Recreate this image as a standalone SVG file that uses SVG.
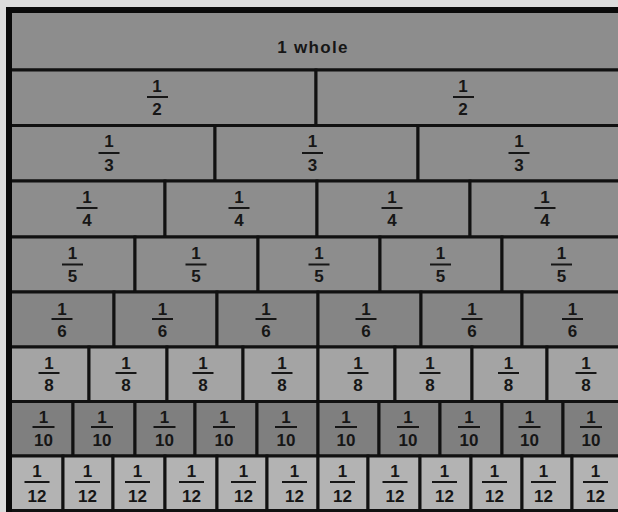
<svg xmlns="http://www.w3.org/2000/svg" width="618" height="512" viewBox="0 0 618 512">
<style>
.c{stroke:#111;stroke-width:3}
.r1{fill:#8d8d8d}.r6{fill:#858585}.r8{fill:#a4a4a4}.r10{fill:#7f7f7f}.r12{fill:#b3b3b3}
text{font-family:"Liberation Sans",Arial,sans-serif;font-weight:bold;font-size:17px;fill:#161616;text-anchor:middle}
.bar{fill:#161616}
</style>
<rect width="618" height="512" fill="#dcdcdc"/>
<g id="row-whole">
<g id="whole"><rect class="c r1" x="9" y="10" width="660" height="60"/><text x="313" y="53" font-size="17" letter-spacing="1.3">1 whole</text></g>
</g>
<g id="row-halves">
<g id="half-1"><rect class="c r1" x="9" y="70" width="307" height="55.5"/><text x="157" y="91.5">1</text><rect class="bar" x="147" y="96" width="21" height="2"/><text x="157" y="115">2</text></g>
<g id="half-2"><rect class="c r1" x="316" y="70" width="360" height="55.5"/><text x="463" y="91.5">1</text><rect class="bar" x="453" y="96" width="21" height="2"/><text x="463" y="115">2</text></g>
</g>
<g id="row-thirds">
<g id="third-1"><rect class="c r1" x="9" y="125.5" width="206" height="55.5"/><text x="109" y="147">1</text><rect class="bar" x="98.5" y="152" width="21" height="2"/><text x="109" y="170.5">3</text></g>
<g id="third-2"><rect class="c r1" x="215" y="125.5" width="203" height="55.5"/><text x="312.5" y="147">1</text><rect class="bar" x="302" y="152" width="21" height="2"/><text x="312.5" y="170.5">3</text></g>
<g id="third-3"><rect class="c r1" x="418" y="125.5" width="260" height="55.5"/><text x="519" y="147">1</text><rect class="bar" x="508.5" y="152" width="21" height="2"/><text x="519" y="170.5">3</text></g>
</g>
<g id="row-quarters">
<g id="quarter-1"><rect class="c r1" x="9" y="181" width="156" height="56"/><text x="87" y="202.5">1</text><rect class="bar" x="76.5" y="207" width="21" height="2"/><text x="87" y="226">4</text></g>
<g id="quarter-2"><rect class="c r1" x="165" y="181" width="152" height="56"/><text x="239" y="202.5">1</text><rect class="bar" x="228.5" y="207" width="21" height="2"/><text x="239" y="226">4</text></g>
<g id="quarter-3"><rect class="c r1" x="317" y="181" width="153" height="56"/><text x="392" y="202.5">1</text><rect class="bar" x="381.5" y="207" width="21" height="2"/><text x="392" y="226">4</text></g>
<g id="quarter-4"><rect class="c r1" x="470" y="181" width="200" height="56"/><text x="545" y="202.5">1</text><rect class="bar" x="534.5" y="207" width="21" height="2"/><text x="545" y="226">4</text></g>
</g>
<g id="row-fifths">
<g id="fifth-1"><rect class="c r1" x="9" y="237" width="126" height="55"/><text x="72.5" y="259">1</text><rect class="bar" x="62" y="263.5" width="21" height="2"/><text x="72.5" y="282">5</text></g>
<g id="fifth-2"><rect class="c r1" x="135" y="237" width="123" height="55"/><text x="196" y="259">1</text><rect class="bar" x="185.5" y="263.5" width="21" height="2"/><text x="196" y="282">5</text></g>
<g id="fifth-3"><rect class="c r1" x="258" y="237" width="122" height="55"/><text x="319" y="259">1</text><rect class="bar" x="308.5" y="263.5" width="21" height="2"/><text x="319" y="282">5</text></g>
<g id="fifth-4"><rect class="c r1" x="380" y="237" width="122" height="55"/><text x="440.5" y="259">1</text><rect class="bar" x="430" y="263.5" width="21" height="2"/><text x="440.5" y="282">5</text></g>
<g id="fifth-5"><rect class="c r1" x="502" y="237" width="170" height="55"/><text x="561.5" y="259">1</text><rect class="bar" x="551" y="263.5" width="21" height="2"/><text x="561.5" y="282">5</text></g>
</g>
<g id="row-sixths">
<g id="sixth-1"><rect class="c r6" x="9" y="292" width="105" height="55"/><text x="62" y="315">1</text><rect class="bar" x="51.5" y="318" width="21" height="2"/><text x="62" y="337">6</text></g>
<g id="sixth-2"><rect class="c r6" x="114" y="292" width="103" height="55"/><text x="162.5" y="315">1</text><rect class="bar" x="152" y="318" width="21" height="2"/><text x="162.5" y="337">6</text></g>
<g id="sixth-3"><rect class="c r6" x="217" y="292" width="101" height="55"/><text x="266" y="315">1</text><rect class="bar" x="255.5" y="318" width="21" height="2"/><text x="266" y="337">6</text></g>
<g id="sixth-4"><rect class="c r6" x="318" y="292" width="103" height="55"/><text x="366" y="315">1</text><rect class="bar" x="355.5" y="318" width="21" height="2"/><text x="366" y="337">6</text></g>
<g id="sixth-5"><rect class="c r6" x="421" y="292" width="101" height="55"/><text x="472" y="315">1</text><rect class="bar" x="461.5" y="318" width="21" height="2"/><text x="472" y="337">6</text></g>
<g id="sixth-6"><rect class="c r6" x="522" y="292" width="150" height="55"/><text x="572.5" y="315">1</text><rect class="bar" x="562" y="318" width="21" height="2"/><text x="572.5" y="337">6</text></g>
</g>
<g id="row-eighths">
<g id="eighth-1"><rect class="c r8" x="9" y="347" width="80" height="54.5"/><text x="49" y="369">1</text><rect class="bar" x="38.5" y="372" width="21" height="2"/><text x="49" y="391">8</text></g>
<g id="eighth-2"><rect class="c r8" x="89" y="347" width="78" height="54.5"/><text x="126" y="369">1</text><rect class="bar" x="115.5" y="372" width="21" height="2"/><text x="126" y="391">8</text></g>
<g id="eighth-3"><rect class="c r8" x="167" y="347" width="76" height="54.5"/><text x="203" y="369">1</text><rect class="bar" x="192.5" y="372" width="21" height="2"/><text x="203" y="391">8</text></g>
<g id="eighth-4"><rect class="c r8" x="243" y="347" width="75" height="54.5"/><text x="282" y="369">1</text><rect class="bar" x="271.5" y="372" width="21" height="2"/><text x="282" y="391">8</text></g>
<g id="eighth-5"><rect class="c r8" x="318" y="347" width="77" height="54.5"/><text x="358" y="369">1</text><rect class="bar" x="347.5" y="372" width="21" height="2"/><text x="358" y="391">8</text></g>
<g id="eighth-6"><rect class="c r8" x="395" y="347" width="77" height="54.5"/><text x="430" y="369">1</text><rect class="bar" x="419.5" y="372" width="21" height="2"/><text x="430" y="391">8</text></g>
<g id="eighth-7"><rect class="c r8" x="472" y="347" width="75" height="54.5"/><text x="508.5" y="369">1</text><rect class="bar" x="498" y="372" width="21" height="2"/><text x="508.5" y="391">8</text></g>
<g id="eighth-8"><rect class="c r8" x="547" y="347" width="125" height="54.5"/><text x="586" y="369">1</text><rect class="bar" x="575.5" y="372" width="21" height="2"/><text x="586" y="391">8</text></g>
</g>
<g id="row-tenths">
<g id="tenth-1"><rect class="c r10" x="9" y="401.5" width="64" height="54.5"/><text x="43.5" y="422.5">1</text><rect class="bar" x="32.5" y="426" width="22" height="2"/><text x="43.5" y="446">10</text></g>
<g id="tenth-2"><rect class="c r10" x="73" y="401.5" width="62" height="54.5"/><text x="102" y="422.5">1</text><rect class="bar" x="91" y="426" width="22" height="2"/><text x="102" y="446">10</text></g>
<g id="tenth-3"><rect class="c r10" x="135" y="401.5" width="60" height="54.5"/><text x="164.5" y="422.5">1</text><rect class="bar" x="153.5" y="426" width="22" height="2"/><text x="164.5" y="446">10</text></g>
<g id="tenth-4"><rect class="c r10" x="195" y="401.5" width="62" height="54.5"/><text x="224" y="422.5">1</text><rect class="bar" x="213" y="426" width="22" height="2"/><text x="224" y="446">10</text></g>
<g id="tenth-5"><rect class="c r10" x="257" y="401.5" width="61" height="54.5"/><text x="286" y="422.5">1</text><rect class="bar" x="275" y="426" width="22" height="2"/><text x="286" y="446">10</text></g>
<g id="tenth-6"><rect class="c r10" x="318" y="401.5" width="61" height="54.5"/><text x="346" y="422.5">1</text><rect class="bar" x="335" y="426" width="22" height="2"/><text x="346" y="446">10</text></g>
<g id="tenth-7"><rect class="c r10" x="379" y="401.5" width="61" height="54.5"/><text x="408" y="422.5">1</text><rect class="bar" x="397" y="426" width="22" height="2"/><text x="408" y="446">10</text></g>
<g id="tenth-8"><rect class="c r10" x="440" y="401.5" width="62" height="54.5"/><text x="469" y="422.5">1</text><rect class="bar" x="458" y="426" width="22" height="2"/><text x="469" y="446">10</text></g>
<g id="tenth-9"><rect class="c r10" x="502" y="401.5" width="61" height="54.5"/><text x="529.5" y="422.5">1</text><rect class="bar" x="518.5" y="426" width="22" height="2"/><text x="529.5" y="446">10</text></g>
<g id="tenth-10"><rect class="c r10" x="563" y="401.5" width="110" height="54.5"/><text x="591" y="422.5">1</text><rect class="bar" x="580" y="426" width="22" height="2"/><text x="591" y="446">10</text></g>
</g>
<g id="row-twelfths">
<g id="twelfth-1"><rect class="c r12" x="9" y="456" width="54" height="54.5"/><text x="37" y="476.5">1</text><rect class="bar" x="24.5" y="481" width="25" height="2"/><text x="37" y="502">12</text></g>
<g id="twelfth-2"><rect class="c r12" x="63" y="456" width="50" height="54.5"/><text x="87.5" y="476.5">1</text><rect class="bar" x="75" y="481" width="25" height="2"/><text x="87.5" y="502">12</text></g>
<g id="twelfth-3"><rect class="c r12" x="113" y="456" width="52" height="54.5"/><text x="137.5" y="476.5">1</text><rect class="bar" x="125" y="481" width="25" height="2"/><text x="137.5" y="502">12</text></g>
<g id="twelfth-4"><rect class="c r12" x="165" y="456" width="52" height="54.5"/><text x="191.5" y="476.5">1</text><rect class="bar" x="179" y="481" width="25" height="2"/><text x="191.5" y="502">12</text></g>
<g id="twelfth-5"><rect class="c r12" x="217" y="456" width="50" height="54.5"/><text x="243.5" y="476.5">1</text><rect class="bar" x="231" y="481" width="25" height="2"/><text x="243.5" y="502">12</text></g>
<g id="twelfth-6"><rect class="c r12" x="267" y="456" width="51" height="54.5"/><text x="294.5" y="476.5">1</text><rect class="bar" x="282" y="481" width="25" height="2"/><text x="294.5" y="502">12</text></g>
<g id="twelfth-7"><rect class="c r12" x="318" y="456" width="50" height="54.5"/><text x="342.5" y="476.5">1</text><rect class="bar" x="330" y="481" width="25" height="2"/><text x="342.5" y="502">12</text></g>
<g id="twelfth-8"><rect class="c r12" x="368" y="456" width="52" height="54.5"/><text x="395" y="476.5">1</text><rect class="bar" x="382.5" y="481" width="25" height="2"/><text x="395" y="502">12</text></g>
<g id="twelfth-9"><rect class="c r12" x="420" y="456" width="51" height="54.5"/><text x="444.5" y="476.5">1</text><rect class="bar" x="432" y="481" width="25" height="2"/><text x="444.5" y="502">12</text></g>
<g id="twelfth-10"><rect class="c r12" x="471" y="456" width="51" height="54.5"/><text x="494.5" y="476.5">1</text><rect class="bar" x="482" y="481" width="25" height="2"/><text x="494.5" y="502">12</text></g>
<g id="twelfth-11"><rect class="c r12" x="522" y="456" width="50" height="54.5"/><text x="543.5" y="476.5">1</text><rect class="bar" x="531" y="481" width="25" height="2"/><text x="543.5" y="502">12</text></g>
<g id="twelfth-12"><rect class="c r12" x="572" y="456" width="100" height="54.5"/><text x="595.5" y="476.5">1</text><rect class="bar" x="583" y="481" width="25" height="2"/><text x="595.5" y="502">12</text></g>
</g>
<g id="connectors"/>
<rect id="frame" x="9" y="10" width="680" height="600" fill="none" stroke="#0a0a0a" stroke-width="6"/>
</svg>
